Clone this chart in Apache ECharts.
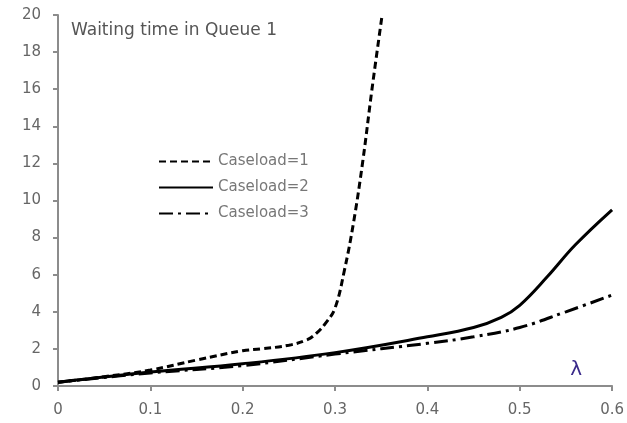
<!DOCTYPE html>
<html><head><meta charset="utf-8">
<script src="https://cdn.jsdelivr.net/npm/echarts@6/dist/echarts.min.js"></script>
<style>html,body{margin:0;padding:0;background:#fff}#c{width:627px;height:423px}</style>
</head><body><div id="c"></div>
<script>
var x1 = [0, 0.05, 0.1, 0.15, 0.2, 0.22, 0.25, 0.27, 0.28, 0.29, 0.30, 0.31, 0.32, 0.33, 0.34, 0.351];
var y1 = [0.2, 0.5, 0.86, 1.4, 1.9, 2.0, 2.2, 2.5, 2.85, 3.4, 4.2, 6.2, 8.8, 12.1, 16.0, 20];
var x2 = [0, 0.1, 0.2, 0.3, 0.4, 0.45, 0.48, 0.5, 0.53, 0.56, 0.6];
var y2 = [0.2, 0.75, 1.2, 1.8, 2.65, 3.15, 3.7, 4.35, 5.9, 7.6, 9.5];
var x3 = [0, 0.1, 0.2, 0.3, 0.4, 0.45, 0.5, 0.55, 0.6];
var y3 = [0.2, 0.7, 1.1, 1.72, 2.3, 2.65, 3.15, 4.0, 4.9];
var names = ['Caseload=1', 'Caseload=2', 'Caseload=3'];
function pairs(xs, ys){ return xs.map(function(v,i){return [v, ys[i]];}); }
var font = 'DejaVu Sans';
var chart = echarts.init(document.getElementById('c'));
chart.setOption({
  animation: false,
  title: {text: 'Waiting time in Queue 1', left: 66, top: 17,
    textStyle: {fontFamily: font, fontSize: 17, fontWeight: 'normal', color: '#555'}},
  legend: {orient: 'vertical', left: 153, top: 149, itemWidth: 54, itemHeight: 10, itemGap: 11,
    itemStyle: {color: 'transparent', borderColor: 'transparent', borderWidth: 0, opacity: 0},
    data: names, textStyle: {fontFamily: font, fontSize: 15, color: '#777'}},
  grid: {left: 58, right: 14, top: 15, bottom: 37},
  xAxis: {type: 'value', min: 0, max: 0.6, interval: 0.1,
    axisLine: {lineStyle: {color: '#8c8c8c', width: 2}},
    axisTick: {show: true, length: 5, lineStyle: {color: '#8c8c8c', width: 2}},
    axisLabel: {fontFamily: font, fontSize: 15, color: '#666', margin: 17},
    splitLine: {show: false},
    name: 'λ', nameLocation: 'end', nameGap: 0,
    nameTextStyle: {fontFamily: font, fontSize: 20, color: '#3a2a8a', align: 'center', verticalAlign: 'bottom', padding: [0, 0, 6, -72]}},
  yAxis: {type: 'value', min: 0, max: 20, interval: 2,
    axisLine: {show: true, lineStyle: {color: '#8c8c8c', width: 2}},
    axisTick: {show: true, length: 5, lineStyle: {color: '#8c8c8c', width: 2}},
    axisLabel: {fontFamily: font, fontSize: 15, color: '#666', margin: 17},
    splitLine: {show: false}},
  series: [
    {name: names[0], type: 'line', smooth: 0.4, showSymbol: false, symbol: 'none', data: pairs(x1, y1),
      lineStyle: {color: '#000', width: 3, type: [7, 4]}, itemStyle: {color: '#000'}},
    {name: names[1], type: 'line', smooth: 0.4, showSymbol: false, symbol: 'none', data: pairs(x2, y2),
      lineStyle: {color: '#000', width: 3, type: 'solid'}, itemStyle: {color: '#000'}},
    {name: names[2], type: 'line', smooth: 0.4, showSymbol: false, symbol: 'none', data: pairs(x3, y3),
      lineStyle: {color: '#000', width: 3, type: [14, 5, 3, 5]}, itemStyle: {color: '#000'}}
  ]
});
</script></body></html>
